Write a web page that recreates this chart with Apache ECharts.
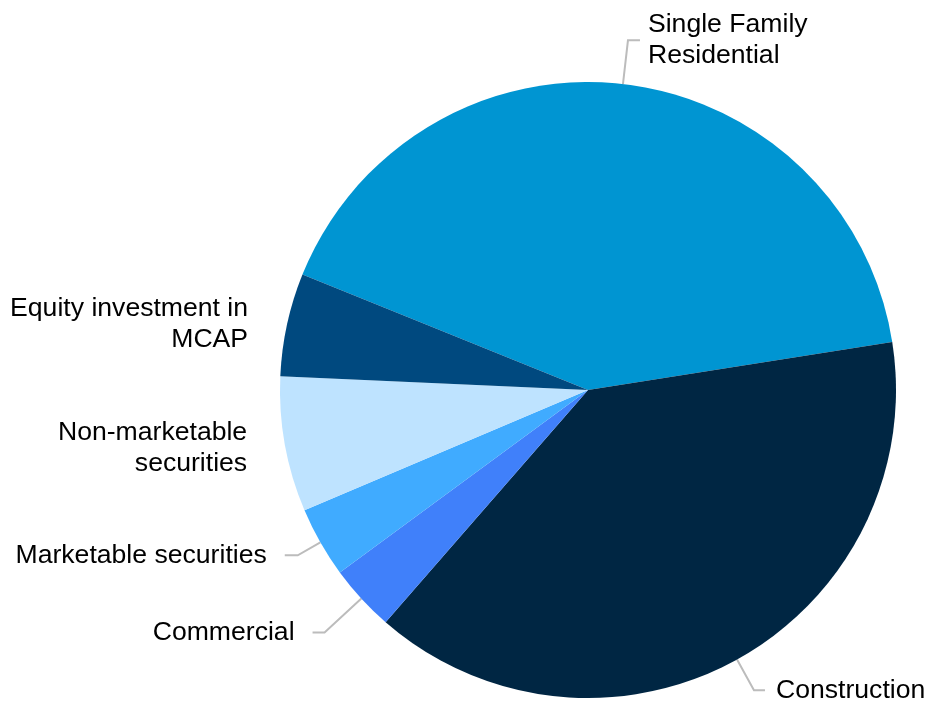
<!DOCTYPE html>
<html>
<head>
<meta charset="utf-8">
<script src="https://cdn.jsdelivr.net/npm/echarts@6/dist/echarts.min.js"></script>
<style>
  html, body { margin: 0; padding: 0; background: #fff; }
  #chart { width: 925px; height: 703px; }
</style>
</head>
<body>
<div id="chart"></div>
<script>
// slice order runs clockwise from the upper-left edge of the big slice
const categories = [
  'Single Family\nResidential',
  'Construction',
  'Commercial',
  'Marketable securities',
  'Non-marketable\nsecurities',
  'Equity investment in\nMCAP'
]
const shares = [41.4, 38.9, 3.5, 3.7, 7.1, 5.4]
const colors = ['#0095d2', '#002643', '#4080fa', '#40abff', '#bee3ff', '#00497f']

// per-slice label line tweaks (length, length2, gap to text, line shown)
const lineLen = [44, 35, 50, 26, 17, 1]
const lineLen2 = [12, 11, 12, 13, 5, 20]
const textGap = [8, 11, 18, 18, 16, 18]
const lineShown = [true, true, true, true, false, false]

const chart = echarts.init(document.getElementById('chart'))

const data = categories.map((name, i) => ({
  name: name,
  value: shares[i],
  itemStyle: { color: colors[i] },
  label: { distanceToLabelLine: textGap[i] },
  labelLine: { show: lineShown[i], length: lineLen[i], length2: lineLen2[i] }
}))

chart.setOption({
  animation: false,
  series: [
    {
      type: 'pie',
      center: [588, 390],
      radius: 308,
      startAngle: 158,
      clockwise: true,
      avoidLabelOverlap: false,
      label: {
        show: true,
        position: 'outside',
        formatter: '{b}',
        color: '#000',
        fontSize: 26.6,
        lineHeight: 31,
        fontFamily: 'Arial, "Liberation Sans", sans-serif'
      },
      labelLine: {
        lineStyle: { color: '#bcbcbc', width: 2 }
      },
      data: data
    }
  ]
})
</script>
</body>
</html>
